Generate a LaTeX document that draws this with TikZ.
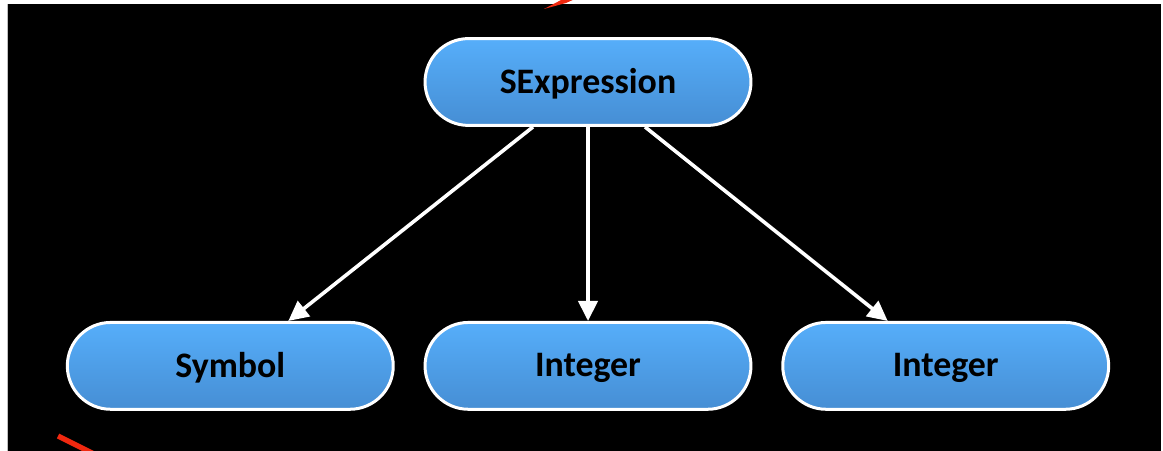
\documentclass[tikz,border=0pt]{standalone}
\usepackage{fontspec}
\setmainfont{Carlito}
\usetikzlibrary{positioning,shapes.misc,arrows.meta}

\definecolor{boxtop}{RGB}{86,174,250}
\definecolor{boxbottom}{RGB}{70,142,212}
\definecolor{redmark}{RGB}{240,40,15}

\begin{document}
\begin{tikzpicture}[
  x=0.025cm, y=-0.025cm,
  boxstyle/.style={
        rounded rectangle,
        draw=white,
        line width=0.075cm,
        top color=boxtop,
        bottom color=boxbottom,
        minimum width=8.38cm,
        minimum height=2.17cm,
        text depth=0.05cm,
        font=\fontsize{25.5}{30}\selectfont\bfseries
  },
  arrowstyle/.style={
        draw=white,
        line width=0.09cm,
        -{Triangle[length=0.5cm,width=0.48cm]}
  }
]

    \useasboundingbox (0,0) rectangle (1163,451);
    \fill[black] (7,4) rectangle (1161,451);
    \draw[gray!50, line width=0.5pt] (7,4) -- (7,451);

    \node[boxstyle] (SExp) at (588,82) {SExpression};
    \node[boxstyle, below=4.85cm of SExp] (Int_1) {Integer};
    \node[boxstyle, left=0.72cm of Int_1] (Sym) {Symbol};
    \node[boxstyle, right=0.72cm of Int_1] (Int_2) {Integer};

    \draw[arrowstyle] ([xshift=-1.375cm]SExp.south) -- ([xshift=1.45cm]Sym.north);
    \draw[arrowstyle] (SExp) -- (Int_1);
    \draw[arrowstyle] ([xshift=1.425cm]SExp.south) -- ([xshift=-1.45cm]Int_2.north);

    % red marks cut off at the edges
    \fill[redmark] (544,9) -- (563,-1) -- (575,-1) -- (566,3) -- cycle;
    \draw[redmark, line width=0.13cm] (58,436) -- (94,454);
\end{tikzpicture}
\end{document}
